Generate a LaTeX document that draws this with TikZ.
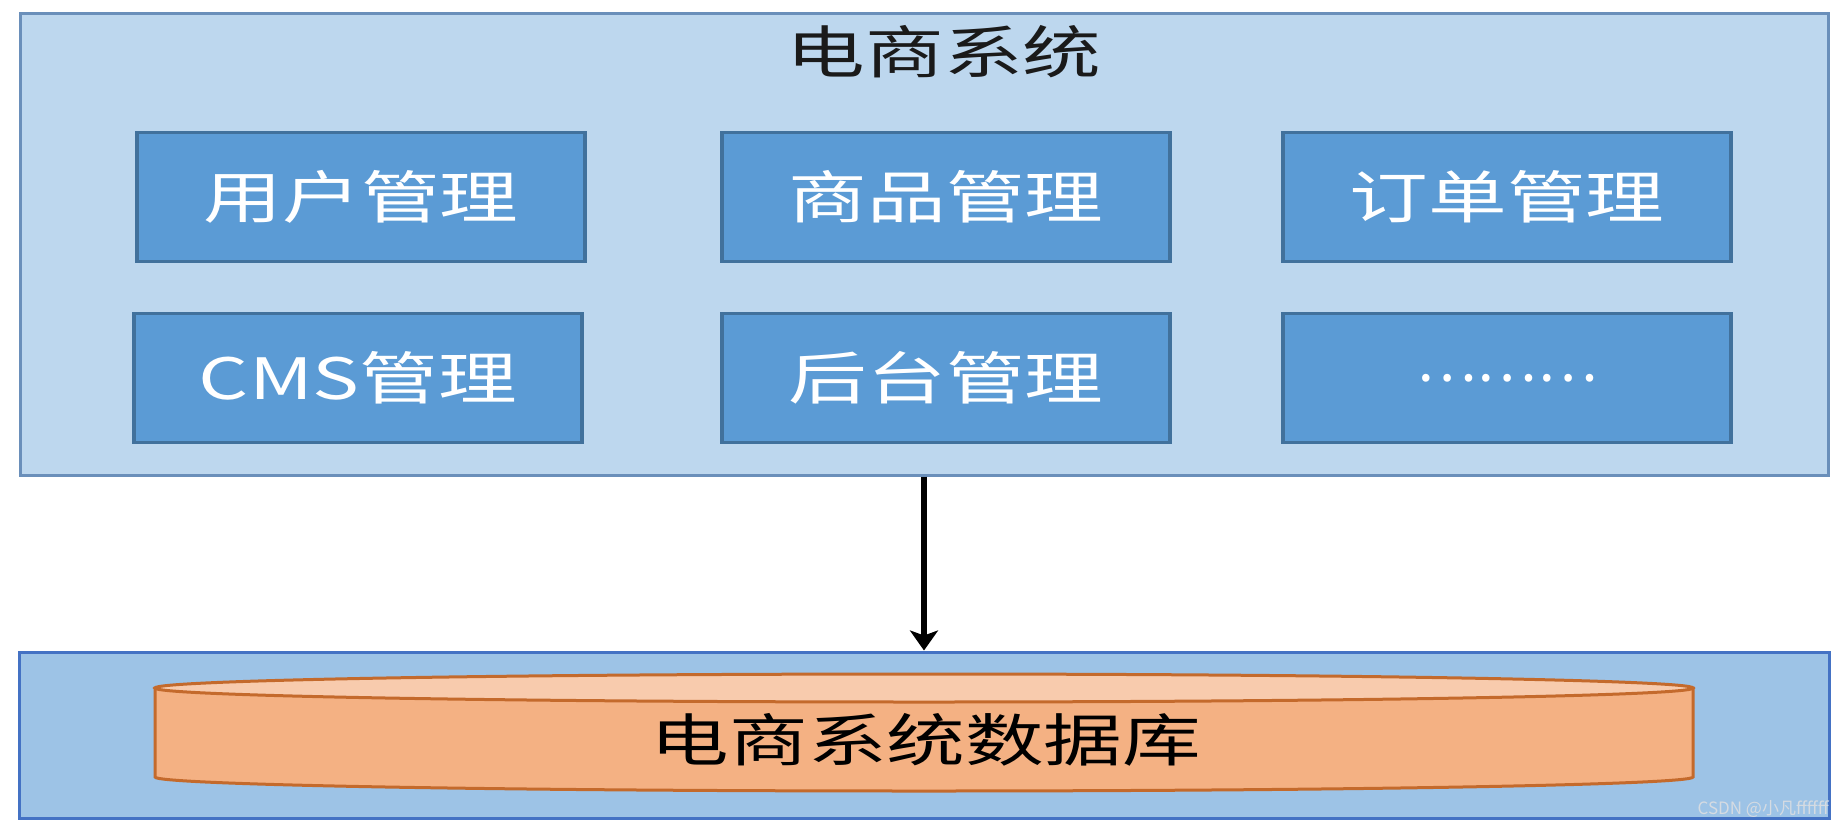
\documentclass[tikz,border=0pt]{standalone}
\usepackage{fontspec}
\usetikzlibrary{arrows.meta}
\newfontfamily\cjkwide[FakeStretch=1.38]{Noto Sans CJK SC}
\newfontfamily\cjkplain{Noto Sans CJK SC}
\definecolor{sysfill}{HTML}{BDD7EE}
\definecolor{sysborder}{HTML}{6A8FBA}
\definecolor{modfill}{HTML}{5B9BD5}
\definecolor{modborder}{HTML}{41719C}
\definecolor{dbfill}{HTML}{9DC3E6}
\definecolor{dbborder}{HTML}{4472C4}
\definecolor{cylbody}{HTML}{F4B183}
\definecolor{cyltop}{HTML}{F8CBAD}
\definecolor{cylborder}{HTML}{C46A2C}
\definecolor{titletext}{HTML}{1A1A1A}
\definecolor{marktext}{HTML}{D5DBE2}
\begin{document}
\begin{tikzpicture}[x=1pt,y=-1pt,
  sysbox/.style={draw=sysborder, fill=sysfill, line width=3pt, inner sep=0pt,
    minimum width=1808pt, minimum height=462pt},
  dbbox/.style={draw=dbborder, fill=dbfill, line width=3pt, inner sep=0pt,
    minimum width=1810pt, minimum height=166pt},
  module/.style={draw=modborder, fill=modfill, line width=3.5pt, inner sep=0pt,
    minimum width=448pt, minimum height=129pt, text=white,
    font=\cjkwide\fontsize{57pt}{60pt}\selectfont},
  bigtext/.style={inner sep=0pt, text=titletext, font=\cjkwide\fontsize{57pt}{60pt}\selectfont},
  cylline/.style={draw=cylborder, line width=3pt},
  arrowline/.style={draw=black, line width=6pt, -{Stealth[length=20pt,width=28pt,inset=5pt]}},
  markstyle/.style={inner sep=0pt, text=marktext, font=\cjkplain\fontsize{17pt}{19pt}\selectfont}
]
\useasboundingbox (0,0) rectangle (1845,828);

% upper system box
\node[sysbox] (sys) at (924,244) {};
\node[bigtext] (title) at (944,52) {电商系统};

% modules
\node[module] (user) at (361,197) {用户管理};
\node[module] (goods) at (946,197) {商品管理};
\node[module] (order) at (1507,197) {订单管理};
\node[module] (cms) at (358,378) {CMS管理};
\node[module] (admin) at (946,378) {后台管理};
\node[module, font=\cjkplain\fontsize{57pt}{60pt}\selectfont] (more) at (1507,378) {………};

% lower database box
\node[dbbox] (db) at (924,735) {};

% cylinder
\path[fill=cylbody, cylline] (155,688) -- (155,777)
  arc[start angle=180, end angle=0, x radius=769, y radius=14]
  -- (1693,688) -- cycle;
\path[fill=cyltop, cylline] (924,688) ellipse[x radius=769, y radius=14];
\node[bigtext, text=black] (dbname) at (926,740) {电商系统数据库};

% connector
\draw[arrowline] (sys.south) -- (db.north);

% watermark
\node[markstyle, anchor=south east] (mark) at (1829,818) {CSDN @小凡ffffff};
\end{tikzpicture}
\end{document}
